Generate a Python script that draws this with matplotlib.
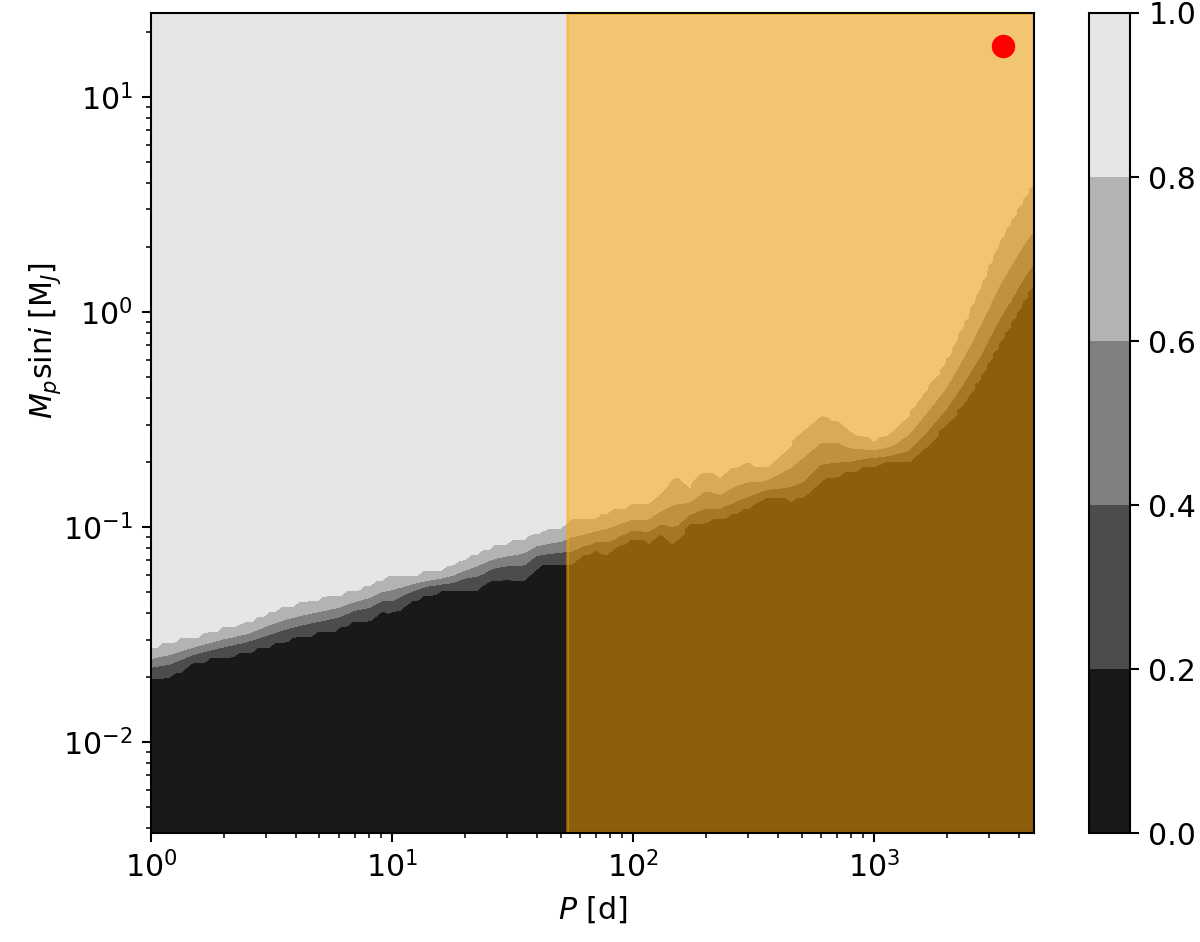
import matplotlib
matplotlib.use("Agg")
import matplotlib.pyplot as plt
import numpy as np

# period grid [d] at which the detection-probability contours were read
PERIOD = [1, 1.2, 1.5, 1.8, 2, 2.5, 3, 3.5, 4, 5, 6, 7, 8, 9, 10, 12, 14, 16, 18, 20,
          23, 26, 30, 35, 40, 45, 50, 55, 60, 70, 80, 90, 100, 115, 130, 150, 170,
          200, 230, 260, 300, 350, 400, 450, 500, 600, 700, 800, 1000, 1200, 1400,
          1700, 2000, 2400, 2800, 3300, 3800, 4300, 4600]

# minimum mass [M_J] reaching probability 0.8 / 0.6 / 0.4 / 0.2
MASS_P80 = [0.0271, 0.0286, 0.0302, 0.0318, 0.0332, 0.0350, 0.0386, 0.0411, 0.0429, 0.0453,
            0.0473, 0.0499, 0.0526, 0.0555, 0.0580, 0.0592, 0.0605, 0.0618, 0.0652, 0.0688,
            0.0757, 0.0791, 0.0825, 0.0871, 0.0919, 0.0949, 0.0969, 0.1067, 0.1056, 0.1090,
            0.1175, 0.1201, 0.1240, 0.1253, 0.1380, 0.1691, 0.1487, 0.1823, 0.1655, 0.1843,
            0.1944, 0.1823, 0.2073, 0.2357, 0.2739, 0.3182, 0.3115, 0.2710, 0.2487, 0.2681,
            0.3285, 0.4433, 0.5795, 0.8708, 1.300, 2.000, 2.700, 3.450, 3.900]
MASS_P60 = [0.0245, 0.0255, 0.0277, 0.0292, 0.0302, 0.0319, 0.0346, 0.0368, 0.0384, 0.0405,
            0.0423, 0.0451, 0.0468, 0.0500, 0.0510, 0.0543, 0.0565, 0.0578, 0.0599, 0.0629,
            0.0667, 0.0709, 0.0734, 0.0755, 0.0821, 0.0841, 0.0856, 0.0899, 0.0917, 0.0959,
            0.0994, 0.1047, 0.1090, 0.1083, 0.1188, 0.1286, 0.1297, 0.1484, 0.1419, 0.1539,
            0.1631, 0.1638, 0.1762, 0.1894, 0.2082, 0.2471, 0.2482, 0.2332, 0.2283, 0.2399,
            0.2722, 0.3549, 0.4501, 0.6426, 0.8972, 1.322, 1.732, 2.159, 2.372]
MASS_P40 = [0.0223, 0.0231, 0.0256, 0.0270, 0.0277, 0.0293, 0.0313, 0.0332, 0.0346, 0.0365,
            0.0381, 0.0411, 0.0421, 0.0454, 0.0454, 0.0502, 0.0531, 0.0543, 0.0553, 0.0579,
            0.0593, 0.0643, 0.0661, 0.0663, 0.0741, 0.0754, 0.0765, 0.0764, 0.0802, 0.0849,
            0.0849, 0.0919, 0.0965, 0.0944, 0.1030, 0.0991, 0.1138, 0.1221, 0.1225, 0.1297,
            0.1380, 0.1480, 0.1510, 0.1539, 0.1605, 0.1944, 0.2001, 0.2022, 0.2103, 0.2157,
            0.2276, 0.2871, 0.3541, 0.4811, 0.6405, 0.9167, 1.190, 1.510, 1.672]
MASS_P20 = [0.0203, 0.0207, 0.0236, 0.0249, 0.0254, 0.0268, 0.0283, 0.0298, 0.0311, 0.0329,
            0.0343, 0.0374, 0.0378, 0.0411, 0.0403, 0.0463, 0.0499, 0.0510, 0.0510, 0.0532,
            0.0526, 0.0580, 0.0592, 0.0580, 0.0666, 0.0673, 0.0681, 0.0696, 0.0742, 0.0791,
            0.0774, 0.0852, 0.0899, 0.0871, 0.0949, 0.0852, 0.1056, 0.1090, 0.1126, 0.1175,
            0.1253, 0.1395, 0.1380, 0.1365, 0.1380, 0.1691, 0.1765, 0.1862, 0.2008, 0.2029,
            0.2051, 0.2541, 0.3082, 0.4070, 0.5264, 0.7416, 0.9588, 1.227, 1.365]

LEVELS = [0.0, 0.2, 0.4, 0.6, 0.8, 1.0]
BASELINE_START = 53.0   # shaded period range (time baseline)
PLANET_P = 3430.0
PLANET_M = 17.3
P_LIM = (1.0, 4600.0)
M_LIM = (0.00378, 24.6)

plt.rcParams["font.size"] = 11.5

# build probability map on a coarse grid from the digitised contours
logp = np.linspace(np.log10(P_LIM[0]), np.log10(P_LIM[1]), 150)
logm = np.linspace(np.log10(M_LIM[0]), np.log10(M_LIM[1]), 160)
curves = np.array([np.interp(logp, np.log10(PERIOD), np.log10(m))
                   for m in (MASS_P20, MASS_P40, MASS_P60, MASS_P80)])
prob = np.empty((logm.size, logp.size))
for j in range(logp.size):
    xp = np.concatenate([[logm[0] - 1], curves[:, j], [logm[-1] + 1]])
    prob[:, j] = np.interp(logm, xp, LEVELS)

fig = plt.figure(figsize=(6.4, 5.024), dpi=187.5)
ax = fig.add_axes([0.1258, 0.1157, 0.7358, 0.8705])
cax = fig.add_axes([0.9075, 0.1157, 0.0342, 0.8705])

cs = ax.contourf(10 ** logp, 10 ** logm, prob, levels=LEVELS, cmap="gray")
ax.axvspan(BASELINE_START, P_LIM[1], color="orange", alpha=0.5)
ax.plot(PLANET_P, PLANET_M, "o", color="red", markersize=8)

ax.set_xscale("log")
ax.set_yscale("log")
ax.set_xlim(*P_LIM)
ax.set_ylim(*M_LIM)
ax.set_xlabel(r"$P$ [d]")
ax.set_ylabel(r"$M_p$sin$i$ [M$_J$]")
ax.yaxis.set_label_coords(-0.1, 0.6)

fig.colorbar(cs, cax=cax)

fig.savefig("out.png", dpi=187.5)
